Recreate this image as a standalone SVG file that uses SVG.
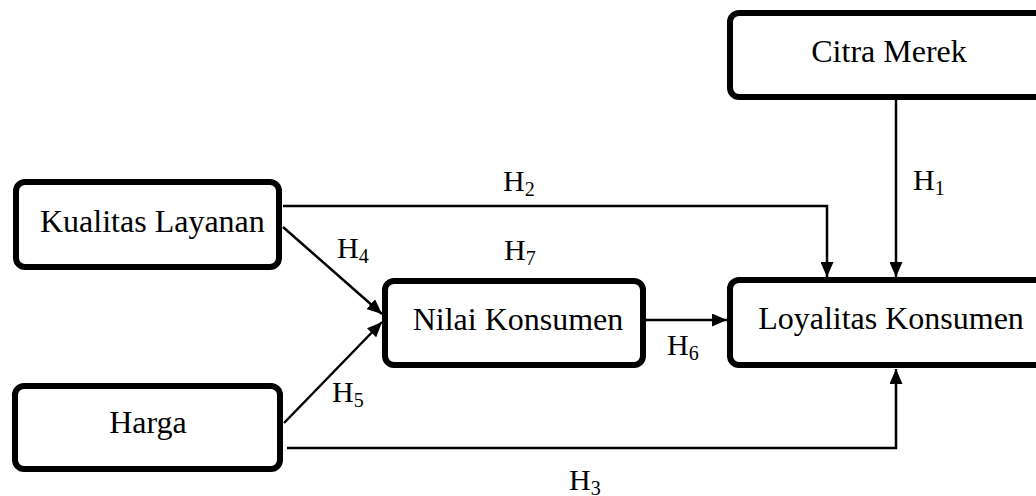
<svg xmlns="http://www.w3.org/2000/svg" width="1036" height="496" viewBox="0 0 1036 496">
<style>
.box{fill:#fff;stroke:#000;stroke-width:6}
.t{font-family:"Liberation Serif","Times New Roman",serif;font-size:32px;fill:#000}
.h{font-family:"Liberation Serif","Times New Roman",serif;font-size:30px;fill:#000}
.s{font-size:20px}
.c{fill:none;stroke:#000;stroke-width:2.5}
</style>
<defs>
<marker id="arr" markerUnits="userSpaceOnUse" markerWidth="15" markerHeight="13" refX="15" refY="6.5" orient="auto">
<path d="M0,0 L15,6.5 L0,13 z" fill="#000"/>
</marker>
</defs>
<rect width="1036" height="496" fill="#fff"/>
<g id="connectors">
<path class="c" d="M283,206 H827 V277" marker-end="url(#arr)"/>
<path class="c" d="M896,100 V277" marker-end="url(#arr)"/>
<path class="c" d="M283,227 L382,314" marker-end="url(#arr)"/>
<path class="c" d="M284,423 L382,322" marker-end="url(#arr)"/>
<path class="c" d="M646,320 H727" marker-end="url(#arr)"/>
<path class="c" d="M287,448 H896 V369" marker-end="url(#arr)"/>
<text class="h" x="503" y="191">H<tspan class="s" dy="5">2</tspan></text>
<text class="h" x="504" y="260">H<tspan class="s" dy="5">7</tspan></text>
<text class="h" x="913" y="190">H<tspan class="s" dy="5">1</tspan></text>
<text class="h" x="337" y="258">H<tspan class="s" dy="5">4</tspan></text>
<text class="h" x="332" y="402">H<tspan class="s" dy="5">5</tspan></text>
<text class="h" x="667" y="355">H<tspan class="s" dy="5">6</tspan></text>
<text class="h" x="569" y="490">H<tspan class="s" dy="5">3</tspan></text>
</g>
<g id="citra">
<rect class="box" x="730" y="13" width="340" height="84" rx="9"/>
<text class="t" x="889" y="62" text-anchor="middle">Citra Merek</text>
</g>
<g id="kualitas">
<rect class="box" x="16" y="182" width="263" height="85" rx="9"/>
<text class="t" x="40" y="232">Kualitas Layanan</text>
</g>
<g id="nilai">
<rect class="box" x="385" y="281" width="258" height="84" rx="9"/>
<text class="t" x="518" y="330" text-anchor="middle">Nilai Konsumen</text>
</g>
<g id="loyalitas">
<rect class="box" x="730" y="280" width="340" height="85" rx="9"/>
<text class="t" x="891" y="329" text-anchor="middle">Loyalitas Konsumen</text>
</g>
<g id="harga">
<rect class="box" x="15" y="386" width="265" height="83" rx="9"/>
<text class="t" x="148" y="433" text-anchor="middle">Harga</text>
</g>
</svg>
